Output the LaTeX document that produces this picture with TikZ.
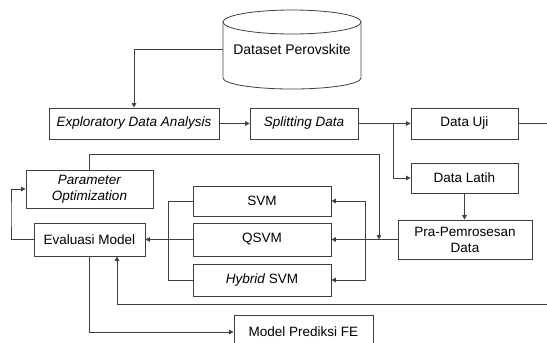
\documentclass[tikz,border=0pt]{standalone}
\usepackage{fontspec}
\setmainfont{Liberation Sans}
\usetikzlibrary{arrows.meta}
\tikzset{
  box/.style={draw=black!75, line width=0.8pt, rectangle, align=center, inner sep=1pt, font=\fontsize{13.5}{16}\selectfont},
  conn/.style={draw=black!75, line width=0.8pt},
  arr/.style={conn, -{Triangle[length=4.5pt,width=4.5pt]}},
}
\begin{document}
\begin{tikzpicture}[x=1pt,y=-1pt]
\useasboundingbox (0,0) rectangle (547,343);
\clip (0,0) rectangle (547,343);
% cylinder
\node[box, draw=none, minimum width=138pt, minimum height=79pt] (ds) at (292,49.5) {\fontsize{14}{16}\selectfont Dataset Perovskite};
\draw[conn] (223,22) -- (223,78) arc[start angle=180, end angle=360, x radius=69pt, y radius=11pt] -- (361,22);
\draw[conn] (292,22) ellipse[x radius=69pt, y radius=12pt];
% boxes
\node[box, minimum width=170pt, minimum height=31pt] (eda) at (134,123.5) {\textit{Exploratory Data Analysis}};
\node[box, minimum width=108pt, minimum height=31pt] (split) at (304,123.5) {\textit{Splitting Data}};
\node[box, minimum width=107pt, minimum height=31pt] (uji) at (464.5,123.5) {Data Uji};
\node[box, minimum width=107pt, minimum height=30pt] (latih) at (464.5,178) {Data Latih};
\node[box, minimum width=134pt, minimum height=39pt] (pra) at (465,239.5) {Pra-Pemrosesan\\Data};
\node[box, minimum width=127pt, minimum height=38pt] (param) at (89.5,189) {\textit{Parameter}\\\textit{Optimization}};
\node[box, minimum width=138pt, minimum height=30pt] (svm) at (262,201) {SVM};
\node[box, minimum width=138pt, minimum height=33pt] (qsvm) at (262,239.5) {QSVM};
\node[box, minimum width=138pt, minimum height=32pt] (hybrid) at (262,280) {\textit{Hybrid} SVM};
\node[box, minimum width=111pt, minimum height=33pt] (eval) at (89.5,239.5) {Evaluasi Model};
\node[box, minimum width=139pt, minimum height=34pt] (model) at (303.5,332) {Model Prediksi FE};
% coordinates
\coordinate (b1) at (393,123.5);
\coordinate (outR) at (547,123.5);
\coordinate (b2) at (365,239.5);
\coordinate (b3) at (168,239.5);
\coordinate (b4) at (379,239.5);
\coordinate (t4) at (379,154);
\coordinate (loopL) at (11,214);
\coordinate (inR) at (547,304);
\coordinate (e2) at (117,304);
% connectors
\draw[arr] (ds.west) -| (eda.north);
\draw[arr] (eda.east) -- (split.west);
\draw[arr] (split.east) -- (uji.west);
\draw[arr] (b1) |- (latih.west);
\draw[conn] (uji.east) -- (outR);
\draw[arr] (latih.south) -- (latih.south |- pra.north);
\draw[arr] (pra.west) -- (qsvm.east);
\draw[arr] (b2) |- (svm.east);
\draw[arr] (b2) |- (hybrid.east);
\draw[arr] (qsvm.west) -- (eval.east);
\draw[conn] (svm.west) -| (b3);
\draw[conn] (hybrid.west) -| (b3);
\draw[arr] (param.north) |- (t4) -- (b4);
\draw[arr] (eval.west) -| (loopL) |- (param.west);
\draw[arr] (inR) -- (e2) -- (e2 |- eval.south);
\draw[arr] (eval.south) |- (model.west);
\end{tikzpicture}
\end{document}
